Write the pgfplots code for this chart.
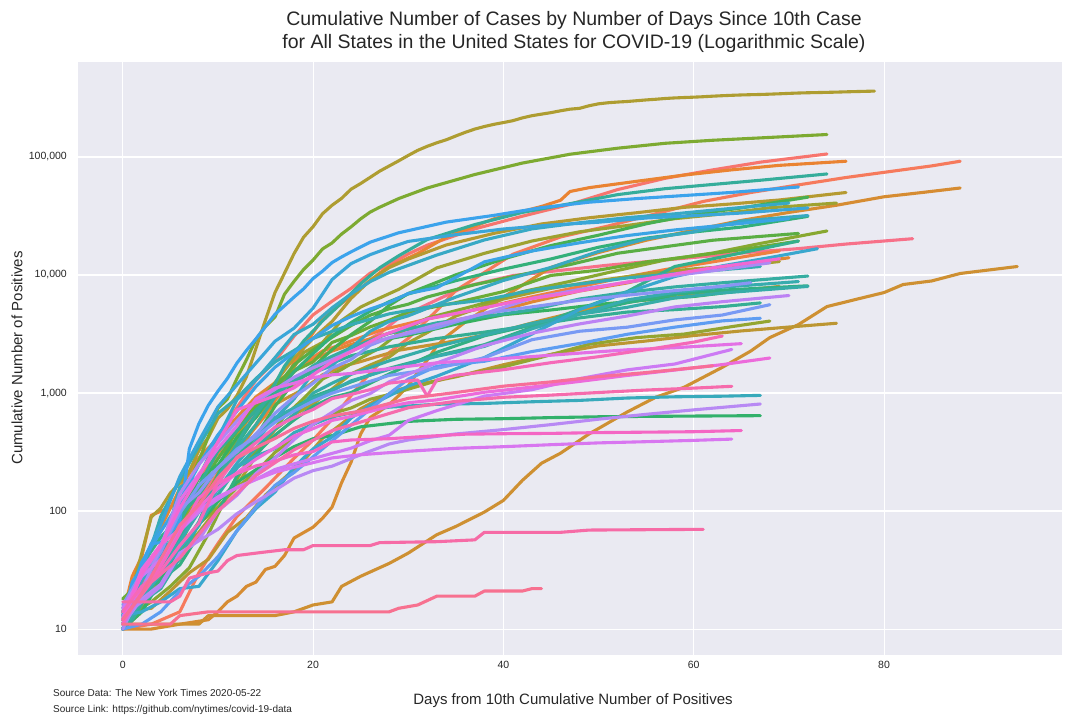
\documentclass[border=0pt]{standalone}
\usepackage{pgfplots}
\pgfplotsset{compat=1.18}
\usepackage{fontspec}
\setmainfont{Liberation Sans}

\definecolor{bg}{HTML}{EAEAF2}
\definecolor{tx}{HTML}{262626}
% line colours, in drawing order
\definecolor{c00}{HTML}{F77189}\definecolor{c01}{HTML}{F7756E}\definecolor{c02}{HTML}{F67A5C}
\definecolor{c03}{HTML}{F07F3F}\definecolor{c04}{HTML}{EA8332}\definecolor{c05}{HTML}{E08733}
\definecolor{c06}{HTML}{D68C32}\definecolor{c07}{HTML}{CE9032}\definecolor{c08}{HTML}{C59332}
\definecolor{c09}{HTML}{BC9632}\definecolor{c10}{HTML}{B59A31}\definecolor{c11}{HTML}{AE9D31}
\definecolor{c12}{HTML}{A7A031}\definecolor{c13}{HTML}{9EA231}\definecolor{c14}{HTML}{94A531}
\definecolor{c15}{HTML}{88A831}\definecolor{c16}{HTML}{7DAA31}\definecolor{c17}{HTML}{6CAC36}
\definecolor{c18}{HTML}{5AAE44}\definecolor{c19}{HTML}{48AF52}\definecolor{c20}{HTML}{37B160}
\definecolor{c21}{HTML}{32B16B}\definecolor{c22}{HTML}{33B07A}\definecolor{c23}{HTML}{33AF82}
\definecolor{c24}{HTML}{34AF8B}\definecolor{c25}{HTML}{35AE93}\definecolor{c26}{HTML}{35AD9B}
\definecolor{c27}{HTML}{36ADA2}\definecolor{c28}{HTML}{36ACA8}\definecolor{c29}{HTML}{37ACAE}
\definecolor{c30}{HTML}{37ABB4}\definecolor{c31}{HTML}{38AABB}\definecolor{c32}{HTML}{38A9C1}
\definecolor{c33}{HTML}{38A9C5}\definecolor{c34}{HTML}{39A7CE}\definecolor{c35}{HTML}{3AA6D9}
\definecolor{c36}{HTML}{3BA4E5}\definecolor{c37}{HTML}{3BA3EC}\definecolor{c38}{HTML}{5E9DF2}
\definecolor{c39}{HTML}{789AF4}\definecolor{c40}{HTML}{8A95F4}\definecolor{c41}{HTML}{B889F4}
\definecolor{c42}{HTML}{AB8AF4}\definecolor{c43}{HTML}{BC82F4}\definecolor{c44}{HTML}{CC7AF4}
\definecolor{c45}{HTML}{D876F0}\definecolor{c46}{HTML}{E370E5}\definecolor{c47}{HTML}{EC6BDB}
\definecolor{c48}{HTML}{F268D3}\definecolor{c49}{HTML}{F466C4}\definecolor{c50}{HTML}{F569B8}
\definecolor{c51}{HTML}{F66BAC}\definecolor{c52}{HTML}{F66BA6}\definecolor{c53}{HTML}{F76E98}
\definecolor{c54}{HTML}{F77190}

\begin{document}
\begin{tikzpicture}
\path[use as bounding box] (0pt,0pt) rectangle (1080pt,720pt);

\begin{axis}[
    at={(78pt,65pt)}, anchor=south west,
    scale only axis,
    width=984pt, height=593pt,
    ymode=log,
    xmin=-4.7, xmax=98.7,
    ymin=6.03, ymax=638000,
    axis background/.style={fill=bg},
    axis line style={draw=none},
    major tick length=0pt,
    minor tick length=0pt,
    tick style={draw=none},
    yminorticks=false,
    xminorticks=false,
    grid=major,
    major grid style={white, line width=1.1pt},
    xtick={0,20,40,60,80},
    xticklabels={0,20,40,60,80},
    ytick={10,100,1000,10000,100000},
    yticklabels={10,100,{1,000},{10,000},{100,000}},
    xticklabel style={font=\fontsize{10.5}{12}\selectfont, text=tx, inner sep=0pt, anchor=north, yshift=-6pt},
    yticklabel style={font=\fontsize{10.5}{12}\selectfont, text=tx, inner sep=0pt, anchor=east, xshift=-11pt},
    no markers,
    every axis plot/.append style={line width=3.1pt, line join=round, line cap=round},
]
% WA
\addplot[c00] coordinates {(0,10)(2,18)(5,75)(7,102)(9,162)(11,267)(13,568)(15,769)(17,1012)(19,1376)(21,1793)(23,2221)(25,2580)(27,3207)(29,4310)(32,5634)(36,7984)(41,9887)(46,10942)(51,12114)(56,13176)(61,14327)(66,15594)(71,16731)(76,18288)(83,20300)};
% IL
\addplot[c01] coordinates {(0,11)(2,25)(4,46)(6,93)(8,160)(10,422)(12,753)(14,1285)(16,1865)(18,3026)(20,4596)(22,5994)(24,7695)(26,10357)(28,12262)(30,15078)(32,17887)(37,24593)(42,31508)(47,39658)(52,52918)(57,65962)(62,77741)(67,90369)(74,106000)};
% CA
\addplot[c02] coordinates {(0,10)(3,11)(6,14)(8,30)(10,53)(12,90)(15,157)(18,280)(20,400)(22,600)(25,1200)(28,2200)(30,2900)(33,5000)(35,7400)(38,10500)(41,15000)(46,21000)(51,26000)(56,33000)(61,42000)(66,50000)(71,58000)(76,67000)(81,76000)(85,84000)(88,92000)};
% AZ
\addplot[c03] coordinates {(0,12)(1,13)(3,20)(5,45)(7,104)(9,235)(11,401)(13,665)(15,919)(17,1289)(19,1769)(21,2269)(23,2575)(27,3393)(32,4237)(37,5064)(42,6280)(47,7648)(52,9305)(57,11119)(62,12927)(69,16000)};
% MA
\addplot[c04] coordinates {(0,13)(1,28)(2,41)(3,92)(5,108)(7,138)(9,197)(11,256)(13,413)(15,646)(17,1159)(18,1838)(19,2417)(20,3240)(21,4257)(22,4955)(23,5752)(24,6620)(25,7738)(26,8966)(27,10402)(28,11736)(31,15202)(34,20974)(39,29918)(44,38077)(46,42944)(47,50969)(49,54938)(54,62205)(59,70271)(64,77793)(69,84933)(76,92000)};
% WI
\addplot[c05] coordinates {(0,12)(2,33)(4,72)(6,155)(8,282)(10,416)(12,621)(14,927)(16,1221)(18,1556)(20,1916)(22,2267)(24,2578)(28,3213)(33,3875)(38,4620)(43,5911)(48,7314)(53,8566)(58,10418)(63,11685)(70,14000)};
% TX
\addplot[c06] coordinates {(0,10)(3,10)(6,11)(9,12)(10,14)(11,17)(12,19)(13,23)(14,25)(15,32)(16,34)(17,42)(18,59)(20,73)(21,87)(22,108)(23,174)(24,260)(25,450)(26,620)(27,700)(28,800)(29,950)(30,1150)(31,1500)(32,1900)(33,2500)(34,3000)(36,4000)(40,6500)(45,11600)(50,15500)(55,19700)(60,24000)(65,29000)(70,33900)(75,39000)(80,46000)(84,50000)(88,54600)};
% NE
\addplot[c07] coordinates {(0,11)(8,11)(9,13)(16,13)(18,14)(20,16)(22,17)(23,23)(25,28)(28,36)(30,44)(33,63)(35,74)(38,98)(40,123)(42,182)(44,254)(46,309)(49,450)(53,690)(56,920)(59,1120)(63,1650)(66,2270)(68,2950)(71,3800)(74,5400)(77,6200)(80,7100)(82,8300)(85,8900)(88,10300)(94,11800)};
% UT
\addplot[c08] coordinates {(0,10)(3,28)(5,51)(7,78)(9,136)(11,257)(13,402)(15,720)(17,887)(19,1074)(21,1428)(23,1675)(25,1846)(29,2303)(34,2683)(39,3213)(44,4123)(49,5175)(54,6035)(59,6620)(64,7239)(69,8000)};
% OR
\addplot[c09] coordinates {(0,14)(3,15)(5,21)(7,30)(9,39)(11,66)(13,88)(15,137)(17,191)(19,266)(21,414)(23,548)(25,736)(27,899)(29,1068)(31,1181)(35,1371)(40,1736)(45,2127)(50,2510)(55,2759)(60,3068)(65,3358)(70,3623)(75,3900)};
% FL
\addplot[c10] coordinates {(0,10)(2,14)(4,28)(6,50)(8,115)(10,192)(12,432)(14,763)(16,1227)(18,1977)(20,2900)(22,4038)(24,6338)(26,9008)(28,11545)(30,13629)(34,17968)(39,22519)(44,27059)(49,30533)(54,33690)(59,37439)(64,40001)(69,43210)(76,50000)};
% NY
\addplot[c11] coordinates {(0,11)(1,22)(2,44)(3,89)(4,106)(5,142)(6,173)(7,217)(8,326)(9,421)(10,610)(11,732)(12,950)(13,1375)(14,2387)(15,4161)(16,7102)(17,10356)(18,15168)(19,20875)(20,25665)(21,33066)(22,38987)(23,44635)(24,53363)(25,59568)(26,67174)(27,75833)(28,83889)(29,92770)(30,102987)(31,113833)(32,123160)(33,131815)(34,139875)(35,150690)(36,161779)(37,172358)(38,181144)(39,189033)(40,195749)(41,203020)(42,214454)(43,223691)(44,230597)(45,237474)(46,246213)(47,254115)(48,258222)(49,271590)(50,282143)(51,288045)(52,291996)(53,295106)(54,299691)(55,304372)(56,308314)(57,312977)(58,316415)(59,318953)(60,321192)(61,323978)(62,327469)(63,330407)(64,333122)(65,335395)(66,337055)(67,338485)(68,340661)(69,343051)(70,345813)(71,348232)(72,350121)(73,351371)(74,352845)(75,354370)(76,356458)(77,358154)(78,359926)(79,361515)};
% RI
\addplot[c12] coordinates {(0,14)(2,20)(4,33)(6,44)(8,66)(10,106)(12,165)(14,294)(16,488)(18,657)(20,806)(22,1082)(24,1450)(26,1727)(28,2015)(30,2665)(32,3251)(35,4491)(40,6256)(45,7708)(50,8962)(55,10205)(60,11274)(65,12016)(69,13000)};
% GA
\addplot[c13] coordinates {(0,10)(3,22)(5,42)(7,99)(9,146)(11,287)(13,507)(15,772)(17,1247)(19,2198)(21,2683)(23,4117)(25,5348)(27,6383)(29,7558)(33,11483)(38,15260)(43,19407)(48,23222)(53,26264)(58,29998)(63,32911)(68,37147)(75,40700)};
% NH
\addplot[c14] coordinates {(0,13)(2,17)(4,26)(6,44)(8,78)(10,108)(12,158)(14,214)(16,314)(18,415)(20,540)(22,669)(24,747)(26,885)(29,1020)(34,1342)(39,1588)(44,2010)(49,2588)(54,2947)(59,3160)(64,3652)(68,4070)};
% NC
\addplot[c15] coordinates {(0,12)(3,17)(5,23)(7,33)(9,64)(11,137)(13,255)(15,398)(17,636)(19,897)(21,1313)(23,1584)(25,1977)(27,2402)(29,3221)(32,4312)(37,5495)(42,7220)(47,8830)(52,10923)(57,13397)(62,15346)(67,18512)(74,23600)};
% NJ
\addplot[c16] coordinates {(0,11)(1,15)(2,23)(3,29)(4,50)(5,69)(6,98)(7,178)(8,267)(9,427)(10,742)(11,890)(12,1327)(13,1914)(14,2844)(15,3675)(16,4402)(17,6876)(18,8825)(19,11124)(20,13386)(21,16636)(22,18696)(23,22255)(24,25590)(25,29895)(26,34124)(27,37505)(29,44416)(32,54588)(37,71030)(42,88806)(47,105498)(52,118652)(57,130593)(62,138532)(67,145089)(74,155000)};
% TN
\addplot[c17] coordinates {(0,18)(2,26)(4,52)(6,79)(8,154)(10,228)(12,505)(14,784)(16,1203)(18,1537)(20,1834)(22,2683)(24,3067)(26,3633)(28,4138)(30,4862)(35,5827)(40,7238)(45,9918)(50,11000)(55,12900)(60,14500)(65,16370)(71,19400)};
% CO
\addplot[c18] coordinates {(0,12)(2,33)(4,49)(6,131)(8,160)(10,277)(12,475)(14,720)(16,1086)(18,1734)(20,2311)(22,2966)(24,3728)(26,4565)(28,5172)(30,5655)(32,6510)(37,8280)(42,10106)(47,12256)(52,15284)(57,17364)(62,19703)(67,21232)(71,22500)};
% MD
\addplot[c19] coordinates {(0,12)(2,17)(4,37)(6,57)(8,107)(10,190)(12,288)(14,425)(16,774)(18,1239)(20,1660)(22,2331)(24,3125)(26,4045)(28,5529)(30,6968)(35,10032)(40,13684)(45,17766)(50,21742)(55,27117)(60,32587)(65,36986)(72,45700)};
% NV
\addplot[c20] coordinates {(0,11)(2,21)(4,45)(6,95)(8,190)(10,245)(12,420)(14,621)(16,1113)(18,1279)(20,1514)(22,1836)(24,2456)(26,2700)(30,3088)(35,3830)(40,4602)(45,5053)(50,5630)(55,6150)(60,6573)(67,7700)};
% HI
\addplot[c21] coordinates {(0,10)(2,14)(4,26)(6,48)(8,77)(10,120)(12,175)(14,224)(16,285)(18,351)(20,410)(22,435)(25,517)(30,575)(35,599)(40,606)(45,619)(50,629)(55,634)(60,638)(67,643)};
% IN
\addplot[c22] coordinates {(0,12)(2,20)(4,30)(6,39)(8,79)(10,201)(12,365)(14,645)(16,981)(18,1514)(20,2159)(22,3039)(24,3953)(26,4944)(28,5943)(30,6907)(35,8955)(40,11211)(45,13680)(50,17182)(55,20507)(60,23146)(65,25473)(72,31400)};
% KY
\addplot[c23] coordinates {(0,14)(2,21)(4,26)(6,35)(8,63)(10,99)(12,198)(14,302)(16,439)(18,591)(20,770)(22,917)(24,1008)(28,1452)(33,2210)(38,3050)(43,3779)(48,4708)(53,5822)(58,6853)(63,7444)(72,8100)};
% MN
\addplot[c24] coordinates {(0,14)(2,35)(4,60)(6,89)(8,137)(10,235)(12,287)(14,441)(16,576)(18,742)(20,935)(22,1069)(24,1242)(28,1621)(33,2071)(38,2567)(43,3602)(48,5136)(53,7234)(58,11799)(63,14240)(71,19400)};
% OK
\addplot[c25] coordinates {(0,10)(2,19)(4,49)(6,81)(8,164)(10,322)(12,481)(14,719)(16,988)(18,1252)(20,1524)(22,1794)(24,2069)(28,2465)(33,2894)(38,3280)(43,3748)(48,4330)(53,4852)(58,5086)(63,5398)(67,5800)};
% PA
\addplot[c26] coordinates {(0,10)(1,12)(3,22)(5,47)(7,76)(9,133)(11,268)(13,509)(15,851)(17,1687)(19,2751)(21,4087)(23,5805)(25,8420)(27,11510)(29,14559)(32,19979)(37,26753)(42,33914)(47,40208)(52,47971)(57,53864)(62,58500)(67,63500)(74,71800)};
% SC
\addplot[c27] coordinates {(0,10)(2,19)(4,33)(6,47)(8,81)(10,195)(12,342)(14,539)(16,925)(18,1293)(20,1700)(22,2049)(24,2417)(28,3207)(33,3931)(38,4439)(43,5070)(48,6258)(53,7142)(58,7927)(63,8592)(72,9800)};
% DC
\addplot[c28] coordinates {(0,10)(2,17)(4,22)(6,40)(8,77)(10,137)(12,231)(14,342)(16,495)(18,653)(20,998)(22,1211)(24,1440)(28,1875)(33,2476)(38,3098)(43,3892)(48,4658)(53,5322)(58,6389)(63,7042)(72,8000)};
% KS
\addplot[c29] coordinates {(0,11)(2,18)(4,34)(6,55)(8,98)(10,168)(12,319)(14,428)(16,620)(18,747)(20,900)(22,1046)(24,1268)(28,1588)(33,2048)(38,2482)(43,3500)(48,4642)(53,6144)(58,7116)(63,7886)(71,8800)};
% MO
\addplot[c30] coordinates {(0,15)(2,28)(4,90)(6,183)(8,356)(10,670)(12,903)(14,1327)(16,1834)(18,2291)(20,2900)(22,3327)(24,3799)(28,4686)(33,5517)(38,6137)(43,7425)(48,8386)(53,9433)(58,10266)(63,11080)(67,11800)};
% VT
\addplot[c31] coordinates {(0,12)(2,19)(4,29)(6,49)(8,75)(10,158)(12,235)(14,293)(16,338)(18,461)(20,543)(22,628)(24,679)(28,759)(33,803)(38,816)(43,843)(48,866)(53,907)(58,929)(63,940)(67,955)};
% VA
\addplot[c32] coordinates {(0,10)(2,30)(4,45)(6,67)(8,99)(10,152)(12,254)(14,391)(16,604)(18,890)(20,1484)(22,1706)(24,2407)(26,3333)(28,4042)(30,4509)(35,6500)(40,8990)(45,11594)(50,15846)(55,20256)(60,23196)(65,28672)(72,31900)};
% CT
\addplot[c33] coordinates {(0,11)(2,26)(4,41)(6,159)(8,194)(10,415)(12,875)(14,1291)(16,1993)(18,3128)(20,3824)(22,5276)(24,6906)(26,8781)(28,10538)(33,14755)(38,19815)(43,24582)(48,27700)(53,30621)(58,32984)(63,36085)(70,40700)};
% IA
\addplot[c34] coordinates {(0,13)(2,14)(4,17)(6,22)(8,23)(10,38)(12,68)(14,105)(16,145)(18,235)(20,336)(22,424)(24,614)(26,786)(28,946)(30,1145)(33,1388)(38,1995)(43,3159)(48,5092)(53,7145)(58,9703)(63,11959)(68,14049)(73,16700)};
% LA
\addplot[c35] coordinates {(0,13)(2,36)(4,77)(6,196)(8,392)(10,763)(12,1172)(14,1795)(16,2746)(18,3540)(20,5237)(22,9150)(24,12496)(26,14867)(28,17030)(30,19253)(35,21951)(40,24523)(45,26512)(50,28001)(55,30399)(60,31815)(65,33489)(72,37000)};
% OH
\addplot[c36] coordinates {(0,13)(2,37)(4,67)(6,119)(8,247)(10,442)(12,704)(14,1137)(16,1653)(18,2199)(20,2902)(22,3739)(24,4450)(26,5148)(28,5836)(30,6975)(33,7794)(38,12919)(43,15963)(48,18743)(53,21576)(58,24081)(63,26357)(70,30000)};
% MI
\addplot[c37] coordinates {(0,12)(1,25)(2,33)(3,53)(4,54)(5,65)(6,83)(7,336)(8,549)(9,788)(10,1035)(11,1329)(12,1793)(13,2296)(14,2878)(15,3657)(16,4650)(17,5488)(18,6498)(19,7615)(20,9334)(21,10791)(22,12744)(23,14225)(24,15718)(26,18970)(29,22783)(34,28059)(39,32000)(44,37203)(49,41379)(54,44397)(59,47138)(64,50079)(71,55700)};
% SD
\addplot[c38] coordinates {(0,10)(2,11)(4,14)(6,21)(8,28)(10,41)(12,68)(14,108)(16,165)(18,212)(20,288)(22,393)(24,536)(26,730)(28,988)(30,1311)(33,1685)(38,1858)(43,2245)(48,2631)(53,3144)(58,3614)(63,4085)(67,4300)};
% AR
\addplot[c39] coordinates {(0,12)(2,22)(4,46)(6,96)(8,165)(10,232)(12,335)(14,426)(16,564)(18,704)(20,853)(22,997)(24,1119)(28,1410)(33,1620)(38,1990)(43,2829)(48,3337)(53,3611)(58,4164)(63,4578)(68,5600)};
% DE
\addplot[c40] coordinates {(0,16)(2,30)(4,45)(6,104)(8,143)(10,232)(12,319)(14,450)(16,673)(18,928)(20,1209)(22,1625)(24,1926)(26,2538)(28,2931)(33,3576)(38,4734)(43,5371)(48,6111)(53,6741)(58,7373)(63,8037)(66,8600)};
% WY
\addplot[c41] coordinates {(0,11)(2,18)(4,24)(6,44)(8,56)(10,70)(12,95)(14,120)(16,150)(18,190)(20,220)(22,240)(25,300)(28,370)(30,400)(35,450)(40,490)(45,540)(50,600)(55,660)(60,720)(67,807)};
% MS
\addplot[c42] coordinates {(0,10)(2,21)(4,50)(6,140)(8,249)(10,377)(12,579)(14,847)(16,1073)(18,1358)(20,1638)(22,1915)(24,2260)(26,2642)(28,2942)(33,3793)(38,4716)(43,6342)(48,7550)(53,8686)(58,9908)(63,11123)(68,12700)};
% NM
\addplot[c43] coordinates {(0,13)(2,17)(4,23)(6,43)(8,57)(10,100)(12,136)(14,208)(16,281)(18,403)(20,543)(22,686)(24,865)(26,989)(28,1245)(33,1798)(38,2521)(43,3213)(48,3850)(53,4493)(58,5364)(63,5938)(70,6700)};
% ND
\addplot[c44] coordinates {(0,15)(2,28)(4,39)(6,68)(8,98)(10,126)(12,159)(14,186)(16,225)(18,251)(20,278)(22,308)(24,341)(26,394)(28,439)(30,585)(33,709)(38,942)(43,1067)(48,1323)(53,1571)(58,1761)(64,2340)};
% AK
\addplot[c45] coordinates {(0,14)(2,22)(4,36)(6,69)(8,102)(10,132)(12,157)(14,185)(16,213)(18,235)(20,257)(22,282)(25,300)(30,321)(35,340)(40,351)(45,365)(50,378)(55,387)(60,397)(64,407)};
% ID
\addplot[c46] coordinates {(0,11)(2,31)(4,50)(6,123)(8,205)(10,339)(12,525)(14,891)(16,1101)(18,1210)(20,1353)(22,1426)(24,1464)(28,1609)(33,1802)(38,1917)(43,2035)(48,2178)(53,2324)(58,2419)(65,2620)};
% ME
\addplot[c47] coordinates {(0,12)(2,32)(4,52)(6,70)(8,107)(10,155)(12,211)(14,275)(16,344)(18,432)(20,499)(22,586)(24,633)(26,698)(28,770)(30,827)(33,875)(38,1015)(43,1123)(48,1254)(53,1408)(58,1565)(63,1741)(68,1980)};
% AL
\addplot[c48] coordinates {(0,12)(2,29)(4,51)(6,106)(8,196)(10,386)(12,720)(14,827)(16,947)(18,1106)(22,1841)(27,3008)(32,4241)(37,5079)(42,6137)(47,7068)(52,8437)(57,9889)(62,11523)(69,13700)};
% MT
\addplot[c49] coordinates {(0,11)(2,21)(4,34)(6,65)(8,129)(10,171)(12,208)(14,241)(16,265)(18,299)(20,319)(22,385)(24,400)(28,410)(32,430)(36,448)(40,452)(45,455)(50,462)(55,466)(60,470)(65,481)};
% PR
\addplot[c50] coordinates {(0,14)(2,23)(4,31)(6,51)(8,79)(10,174)(12,286)(14,378)(16,513)(18,620)(20,725)(22,897)(24,974)(26,1068)(28,1213)(31,1290)(32,940)(33,1290)(35,1416)(40,1575)(45,1808)(50,2031)(55,2329)(60,2700)(63,3040)};
% GU
\addplot[c51] coordinates {(0,12)(3,25)(6,40)(10,100)(14,200)(18,330)(22,480)(26,600)(30,750)(35,850)(40,920)(45,960)(50,1010)(55,1060)(60,1100)(64,1140)};
% VI
\addplot[c52] coordinates {(0,17)(5,17)(6,19)(7,27)(9,30)(10,31)(11,38)(12,42)(15,45)(17,47)(19,47)(20,51)(26,51)(27,54)(33,55)(37,57)(38,66)(46,66)(49,69)(61,70)};
% WV
\addplot[c53] coordinates {(0,12)(2,20)(4,39)(6,76)(8,113)(10,191)(12,282)(14,345)(16,412)(18,502)(20,577)(22,640)(25,702)(30,902)(35,1010)(40,1143)(45,1242)(50,1377)(55,1491)(62,1700)};
% MP
\addplot[c54] coordinates {(0,11)(5,11)(6,13)(9,14)(28,14)(29,15)(31,16)(33,19)(37,19)(38,21)(42,21)(43,22)(44,22)};
\end{axis}

\node[anchor=base, font=\fontsize{19.5}{23}\selectfont, text=tx] at (574pt,694pt) {Cumulative Number of Cases by Number of Days Since 10th Case};
\node[anchor=base, font=\fontsize{19.5}{23}\selectfont, text=tx] at (574pt,671pt) {for All States in the United States for COVID-19 (Logarithmic Scale)};
\node[rotate=90, font=\fontsize{15}{17}\selectfont, text=tx] at (17pt,362pt) {Cumulative Number of Positives};
\node[font=\fontsize{15}{17}\selectfont, text=tx] at (573pt,19pt) {Days from 10th Cumulative Number of Positives};
\node[anchor=west, inner sep=0pt, font=\fontsize{10}{12}\selectfont, text=tx] at (53pt,27pt) {Source Data: The New York Times 2020-05-22};
\node[anchor=west, inner sep=0pt, font=\fontsize{10}{12}\selectfont, text=tx] at (53pt,10pt) {Source Link: https://github.com/nytimes/covid-19-data};
\end{tikzpicture}
\end{document}
